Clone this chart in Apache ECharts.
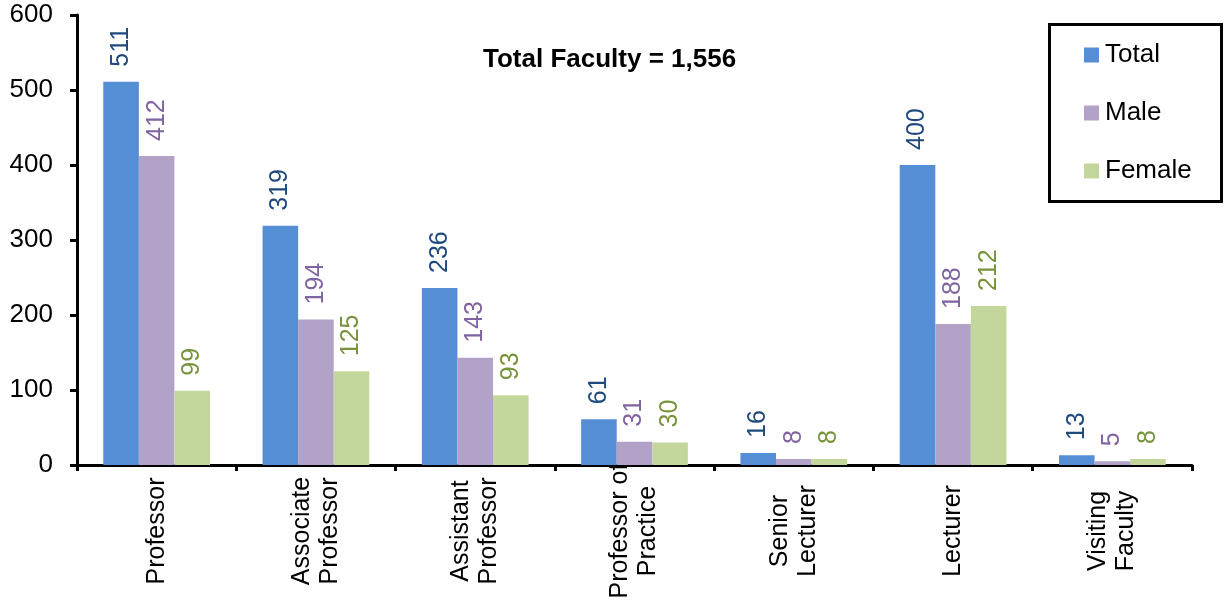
<!DOCTYPE html>
<html>
<head>
<meta charset="utf-8">
<script src="https://cdn.jsdelivr.net/npm/echarts@6/dist/echarts.min.js"></script>
<style>html,body{margin:0;padding:0;background:#fff;}#c{width:1226px;height:610px;}</style>
</head>
<body>
<div id="c"></div>
<script>
const categories = ['Professor', 'Associate\nProfessor', 'Assistant\nProfessor', 'Professor of\nPractice', 'Senior\nLecturer', 'Lecturer', 'Visiting\nFaculty'];
const totalValues = [511, 319, 236, 61, 16, 400, 13];
const maleValues = [412, 194, 143, 31, 8, 188, 5];
const femaleValues = [99, 125, 93, 30, 8, 212, 8];
const seriesNames = ['Total', 'Male', 'Female'];
const titleText = 'Total Faculty = 1,556';

const FONT = '"Liberation Sans", Arial, sans-serif';
const barColors = ['#558ED5', '#B3A2C7', '#C3D69B'];
const labelColors = ['#1F497D', '#8064A2', '#77933C'];
const values = [totalValues, maleValues, femaleValues];

const chart = echarts.init(document.getElementById('c'));
chart.setOption({
  animation: false,
  backgroundColor: '#fff',
  textStyle: { fontFamily: FONT },
  title: {
    text: titleText, left: 483, top: 47, padding: 0,
    textStyle: { fontFamily: FONT, fontSize: 26, fontWeight: 'bold', color: '#000' }
  },
  legend: {
    orient: 'vertical', left: 1084, top: 42, padding: 0,
    itemWidth: 15, itemHeight: 15, itemGap: 32, icon: 'rect',
    data: seriesNames,
    textStyle: { fontFamily: FONT, fontSize: 26, color: '#000', padding: [0, 0, 0, 1] }
  },
  graphic: [{
    type: 'rect', left: 1047, top: 22, silent: true,
    shape: { width: 172, height: 177 },
    style: { fill: 'none', stroke: '#000', lineWidth: 3 }
  }],
  grid: { left: 77, right: 34, top: 15, bottom: 145, containLabel: false },
  xAxis: {
    type: 'category', data: categories,
    axisLine: { lineStyle: { color: '#000', width: 3 } },
    axisTick: { show: true, length: 6, inside: false, lineStyle: { color: '#000', width: 3 } },
    axisLabel: {
      interval: 0, rotate: 90, align: 'center', verticalAlign: 'middle', margin: 66,
      fontFamily: FONT, fontSize: 25, lineHeight: 28, color: '#000'
    }
  },
  yAxis: {
    type: 'value', min: 0, max: 600, interval: 100,
    splitLine: { show: false },
    axisLine: { show: true, lineStyle: { color: '#000', width: 3 } },
    axisTick: { show: true, length: 7, lineStyle: { color: '#000', width: 3 } },
    axisLabel: { margin: 24, fontFamily: FONT, fontSize: 26, color: '#000' }
  },
  series: seriesNames.map((name, i) => ({
    name, type: 'bar', data: values[i],
    barGap: '0%', barCategoryGap: '33%',
    itemStyle: { color: barColors[i] },
    label: {
      show: true, position: 'top', distance: 15, rotate: 90,
      align: 'left', verticalAlign: 'middle',
      fontFamily: FONT, fontSize: 25, color: labelColors[i]
    }
  }))
});
</script>
</body>
</html>
